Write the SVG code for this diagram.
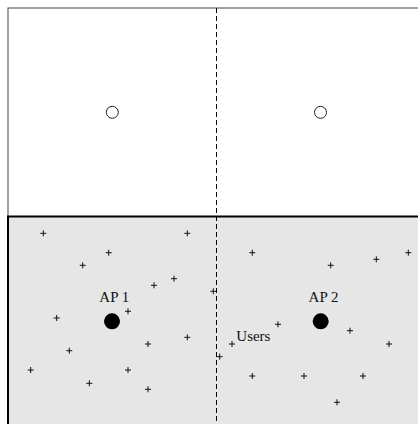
<svg xmlns="http://www.w3.org/2000/svg" width="418" height="424" viewBox="0 0 418 424">
<style>
.lbl{font-family:"Liberation Serif","Times New Roman",serif;font-size:15px;fill:#111}
.u{stroke:#111;stroke-width:1;fill:none}
</style>
<defs>
<path id="p" d="M-3,0H3M0,-3V3" class="u"/>
</defs>
<rect width="418" height="424" fill="#fff"/>
<g id="top-area">
<rect x="8" y="8" width="420" height="208.5" fill="#fff" stroke="#444" stroke-width="1"/>
</g>
<g id="bottom-area">
<rect x="8" y="216.5" width="420" height="220" fill="#e6e6e6" stroke="#000" stroke-width="2"/>
</g>
<g id="connectors">
<line x1="216.5" y1="8" x2="216.5" y2="424" stroke="#000" stroke-width="1" stroke-dasharray="5,3"/>
</g>
<g id="ghost1"><circle cx="112.3" cy="112.3" r="6" fill="#fff" stroke="#222" stroke-width="1"/></g>
<g id="ghost2"><circle cx="320.5" cy="112.3" r="6" fill="#fff" stroke="#222" stroke-width="1"/></g>
<g id="ap1"><circle cx="112" cy="321.3" r="8" fill="#000"/><text class="lbl" x="114.3" y="302" text-anchor="middle">AP 1</text></g>
<g id="ap2"><circle cx="320.7" cy="321.3" r="8" fill="#000"/><text class="lbl" x="323.5" y="302" text-anchor="middle">AP 2</text></g>
<g id="users">
<text class="lbl" x="236.3" y="340.7">Users</text>
<use href="#p" x="43.3" y="233.3"/>
<use href="#p" x="187.3" y="233.3"/>
<use href="#p" x="108.7" y="252.7"/>
<use href="#p" x="82.7" y="265.3"/>
<use href="#p" x="174" y="278.7"/>
<use href="#p" x="154" y="285.3"/>
<use href="#p" x="128" y="311.3"/>
<use href="#p" x="56.7" y="318"/>
<use href="#p" x="187.3" y="337.3"/>
<use href="#p" x="148" y="344"/>
<use href="#p" x="69.3" y="350.7"/>
<use href="#p" x="30.7" y="370"/>
<use href="#p" x="128" y="370"/>
<use href="#p" x="89.3" y="383.3"/>
<use href="#p" x="148" y="389.3"/>
<use href="#p" x="252.3" y="252.7"/>
<use href="#p" x="330.7" y="265.3"/>
<use href="#p" x="376.3" y="259.3"/>
<use href="#p" x="408.3" y="252.7"/>
<use href="#p" x="213.3" y="291.3"/>
<use href="#p" x="278" y="324.3"/>
<use href="#p" x="350" y="330.7"/>
<use href="#p" x="232" y="344"/>
<use href="#p" x="389" y="344"/>
<use href="#p" x="219.7" y="356.7"/>
<use href="#p" x="252.3" y="376"/>
<use href="#p" x="304" y="376"/>
<use href="#p" x="363" y="376"/>
<use href="#p" x="337" y="402.3"/>
</g>
</svg>
